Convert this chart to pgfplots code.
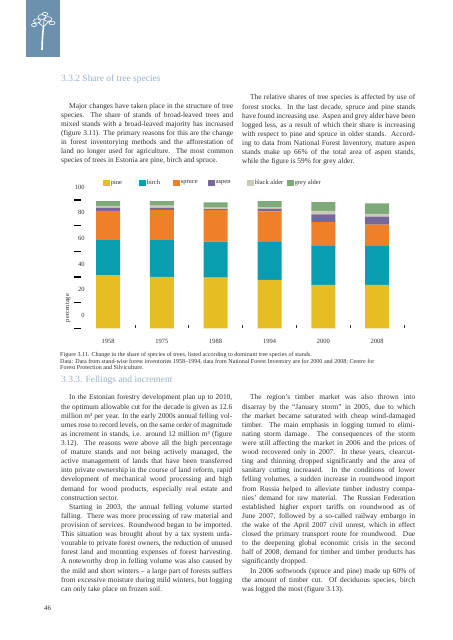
\documentclass[border=0pt]{standalone}
\usepackage{pgfplots}
\pgfplotsset{compat=1.18}
\usepackage{fontspec}
\setmainfont{Liberation Serif}
\definecolor{pinec}{HTML}{E7BD24}
\definecolor{birchc}{HTML}{0A9DB2}
\definecolor{sprucec}{HTML}{F07F2A}
\definecolor{aspenc}{HTML}{76679A}
\definecolor{balderc}{HTML}{C8CCB8}
\definecolor{galderc}{HTML}{7DAA78}
\definecolor{headc}{HTML}{9AB2C7}
\definecolor{iconc}{HTML}{6C90AE}
\definecolor{txt}{HTML}{2E2E2E}
\newcommand\Jline[1]{\makebox[\linewidth][s]{#1}\par}
\newcommand\Jind[1]{\makebox[\linewidth][s]{\hspace*{8bp}#1}\par}
\newcommand\Lline[1]{\makebox[\linewidth][l]{#1}\par}
\newcommand\Lind[1]{\makebox[\linewidth][l]{\hspace*{8bp}#1}\par}
\newcommand\bodyfont{\fontsize{7.4}{9.15}\selectfont}
\pgfplotsset{sq/.style={legend image code/.code={\fill[##1] (0bp,-3.2bp) rectangle (6.5bp,3.2bp);}}}
\begin{document}
\begin{tikzpicture}[x=1bp,y=1bp]
\fill[white] (0,0) rectangle (453,640);
\useasboundingbox (0,0) rectangle (453,640);
% icon
\fill[iconc] (26,583) rectangle (60,640);
\draw[white, line width=1.6bp] (42,590) .. controls (42.3,600) and (42.5,606) .. (43.5,613);
\draw[white, line width=0.7bp] (43.5,613) -- (38,618) (43.5,613) -- (49,619) (43.5,613) -- (44,621);
\draw[white, line width=0.6bp] (37,619) ellipse (3.5 and 2.2) (42,623) ellipse (4 and 2.5) (48,621) ellipse (4 and 2.3) (52,617) ellipse (3 and 1.8) (34,615) ellipse (2.5 and 1.6) (45,626) ellipse (3 and 1.6);
% headings
\node[anchor=base west, inner sep=0pt, text=headc] at (61,558.5) {\fontsize{9.5}{11}\selectfont 3.3.2 Share of tree species};
\node[anchor=base west, inner sep=0pt, text=headc] at (61,257.5) {\fontsize{9.5}{11}\selectfont 3.3.3. Fellings and increment};
% upper text
\node[anchor=base west, inner sep=0pt, text=txt] at (61,531.7) {\parbox[t]{172bp}{\bodyfont
\Jind{Major changes have taken place in the structure of tree}
\Jline{species. The share of stands of broad-leaved trees and}
\Jline{mixed stands with a broad-leaved majority has increased}
\Jline{(figure 3.11). The primary reasons for this are the change}
\Jline{in forest inventorying methods and the afforestation of}
\Jline{land no longer used for agriculture. The most common}
\Lline{species of trees in Estonia are pine, birch and spruce.}}};
\node[anchor=base west, inner sep=0pt, text=txt] at (242,540.1) {\parbox[t]{173bp}{\bodyfont
\Jind{The relative shares of tree species is affected by use of}
\Jline{forest stocks. In the last decade, spruce and pine stands}
\Jline{have found increasing use. Aspen and grey alder have been}
\Jline{logged less, as a result of which their share is increasing}
\Jline{with respect to pine and spruce in older stands. Accord-}
\Jline{ing to data from National Forest Inventory, mature aspen}
\Jline{stands make up 66\% of the total area of aspen stands,}
\Lline{while the figure is 59\% for grey alder.}}};
% caption
\node[anchor=base west, inner sep=0pt, text=txt] at (60,283.6) {\parbox[t]{345bp}{\fontsize{6.1}{6.65}\selectfont
\Lline{Figure 3.11. Change in the share of species of trees, listed according to dominant tree species of stands.}
\Lline{Data: Data from stand-wise forest inventories 1958–1994, data from National Forest Inventory are for 2000 and 2008; Centre for}
\Lline{Forest Protection and Silviculture.}}};
% lower text
\node[anchor=base west, inner sep=0pt, text=txt] at (61,240.1) {\parbox[t]{171bp}{\bodyfont
\Jind{In the Estonian forestry development plan up to 2010,}
\Jline{the optimum allowable cut for the decade is given as 12.6}
\Jline{million m³ per year. In the early 2000s annual felling vol-}
\Jline{umes rose to record levels, on the same order of magnitude}
\Jline{as increment in stands, i.e. around 12 million m³ (figure}
\Jline{3.12). The reasons were above all the high percentage}
\Jline{of mature stands and not being actively managed, the}
\Jline{active management of lands that have been transferred}
\Jline{into private ownership in the course of land reform, rapid}
\Jline{development of mechanical wood processing and high}
\Jline{demand for wood products, especially real estate and}
\Lline{construction sector.}
\Jind{Starting in 2003, the annual felling volume started}
\Jline{falling. There was more processing of raw material and}
\Jline{provision of services. Roundwood began to be imported.}
\Jline{This situation was brought about by a tax system unfa-}
\Jline{vourable to private forest owners, the reduction of unused}
\Jline{forest land and mounting expenses of forest harvesting.}
\Jline{A noteworthy drop in felling volume was also caused by}
\Jline{the mild and short winters – a large part of forests suffers}
\Jline{from excessive moisture during mild winters, but logging}
\Lline{can only take place on frozen soil.}}};
\node[anchor=base west, inner sep=0pt, text=txt] at (242,240.1) {\parbox[t]{173bp}{\bodyfont
\Jind{The region’s timber market was also thrown into}
\Jline{disarray by the “January storm” in 2005, due to which}
\Jline{the market became saturated with cheap wind-damaged}
\Jline{timber. The main emphasis in logging turned to elimi-}
\Jline{nating storm damage. The consequences of the storm}
\Jline{were still affecting the market in 2006 and the prices of}
\Jline{wood recovered only in 2007. In these years, clearcut-}
\Jline{ting and thinning dropped significantly and the area of}
\Jline{sanitary cutting increased. In the conditions of lower}
\Jline{felling volumes, a sudden increase in roundwood import}
\Jline{from Russia helped to alleviate timber industry compa-}
\Jline{nies’ demand for raw material. The Russian Federation}
\Jline{established higher export tariffs on roundwood as of}
\Jline{June 2007, followed by a so-called railway embargo in}
\Jline{the wake of the April 2007 civil unrest, which in effect}
\Jline{closed the primary transport route for roundwood. Due}
\Jline{to the deepening global economic crisis in the second}
\Jline{half of 2008, demand for timber and timber products has}
\Lline{significantly dropped.}
\Jind{In 2006 softwoods (spruce and pine) made up 60\% of}
\Jline{the amount of timber cut. Of deciduous species, birch}
\Lline{was logged the most (figure 3.13).}}};
\node[anchor=base west, inner sep=0pt, text=txt] at (44,29) {\fontsize{7}{8}\selectfont 46};
% chart
\begin{axis}[
  at={(81.1bp,311.7bp)}, anchor=south west,
  scale only axis, width=323bp, height=128.3bp,
  xmin=-0.5, xmax=5.5, ymin=0, ymax=100,
  ybar stacked, bar width=24bp,
  axis lines*=left, axis line style={draw=none},
  tick align=outside,
  xtick={0,1,2,3,4,5}, xticklabels={1958,1975,1988,1994,2000,2008},
  major x tick style={draw=none},
  minor xtick={0.5,1.5,2.5,3.5,4.5,5.5},
  minor tick length=3bp,
  minor x tick style={yshift=3bp, line width=0.8bp, color=txt},
  ytick={0,20,40,60,80,100},
  major tick length=7bp,
  major y tick style={line width=1.1bp, color=black},
  yticklabel style={yshift=12.8bp, xshift=14bp},
  tick label style={font=\fontsize{6.5}{7}\selectfont, text=txt},
  /pgf/number format/assume math mode=true,
  ylabel={percentage},
  every axis y label/.style={at={(axis description cs:-0.0406,0.158)}, rotate=90, anchor=center, font=\fontsize{6.5}{7}\selectfont, text=txt},
  legend columns=6,
  legend style={at={(axis description cs:0.068,1.1325)}, anchor=west, draw=none, fill=none, inner sep=0pt, font=\fontsize{6.5}{7}\selectfont, text=txt, column sep=0pt, nodes={inner sep=1bp}},
]
\addplot[fill=pinec, draw=none, sq] coordinates {(0,41.5) (1,40.0) (2,39.4) (3,37.7) (4,33.8) (5,33.8)};
\addplot[fill=birchc, draw=none, sq] coordinates {(0,27.2) (1,28.8) (2,28.1) (3,29.6) (4,30.4) (5,30.4)};
\addplot[fill=sprucec, draw=none, sq] coordinates {(0,22.9) (1,23.4) (2,24.7) (3,23.9) (4,18.7) (5,16.6)};
\addplot[fill=aspenc, draw=none, sq] coordinates {(0,2.2) (1,1.6) (2,0.6) (3,1.8) (4,5.9) (5,6.2)};
\addplot[fill=balderc, draw=none, sq] coordinates {(0,1.7) (1,1.8) (2,1.2) (3,1.5) (4,2.7) (5,2.1)};
\addplot[fill=galderc, draw=none, sq] coordinates {(0,3.6) (1,3.6) (2,4.2) (3,4.7) (4,6.8) (5,8.3)};
\legend{\makebox[27.5bp][l]{pine}, \makebox[25.5bp][l]{birch}, \makebox[26.5bp][l]{spruce}, \makebox[30.5bp][l]{aspen}, \makebox[31.5bp][l]{black alder}, grey alder}
\end{axis}
\end{tikzpicture}
\end{document}
